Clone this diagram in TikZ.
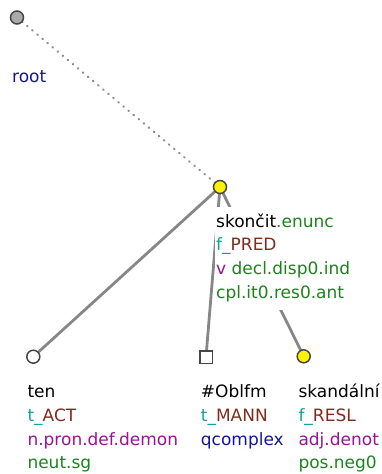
\documentclass[tikz,border=0pt]{standalone}
\usepackage{fontspec}
\newfontfamily\labfont{DejaVu Sans}
\definecolor{tgreen}{RGB}{30,130,30}
\definecolor{tteal}{RGB}{20,160,160}
\definecolor{tbrown}{RGB}{125,45,30}
\definecolor{tpurple}{RGB}{150,20,150}
\definecolor{tblue}{RGB}{20,20,150}
\definecolor{edgegray}{RGB}{135,135,135}
\definecolor{nodeborder}{RGB}{70,70,70}
\definecolor{rootfill}{RGB}{170,170,170}
\definecolor{dotgray}{RGB}{140,140,140}
\tikzset{
  lab/.style={font=\labfont\fontsize{17}{20}\selectfont, anchor=base west, inner sep=0pt},
  tnode/.style={circle, draw=nodeborder, line width=1.5pt, minimum size=13pt, inner sep=0pt},
  tsquare/.style={rectangle, draw=nodeborder, line width=1.5pt, minimum size=12.5pt, inner sep=0pt, fill=white},
  tedge/.style={draw=edgegray, line width=2.8pt},
  rootedge/.style={draw=dotgray, line width=2.2pt, line cap=round, dash pattern=on 0.6pt off 6pt},
}
\begin{document}
\begin{tikzpicture}[x=1pt,y=-1pt]
\useasboundingbox (0,0) rectangle (382,474);
% node positions
\coordinate (rootc) at (17,17.5);
\coordinate (predc) at (220,187);
\coordinate (tenc) at (33.3,356.7);
\coordinate (oblc) at (206,357);
\coordinate (skac) at (303.7,356.3);
% edges
\draw[rootedge] (rootc) -- (predc);
\draw[tedge] (predc) -- (tenc);
\draw[tedge] (predc) -- (oblc);
\draw[tedge] (predc) -- (skac);
% white label background for the predicate
\fill[white] (215,207) rectangle (345,310);
% nodes
\node[tnode, fill=rootfill] (root) at (rootc) {};
\node[tnode, fill=yellow] (pred) at (predc) {};
\node[tnode, fill=white] (ten) at (tenc) {};
\node[tsquare] (obl) at (oblc) {};
\node[tnode, fill=yellow] (ska) at (skac) {};
% labels
\node[lab, text=tblue] (rootl) at (12,82) {root};

\node[lab] (p1) at (216,227) {skončit{\color{tgreen}.enunc}};
\node[lab] (p2) at (216,250.7) {{\color{tteal}f\_}{\color{tbrown}PRED}};
\node[lab] (p3) at (216,274.4) {{\color{tpurple}v} {\color{tgreen}decl.disp0.ind}};
\node[lab, text=tgreen] (p4) at (216,298) {cpl.it0.res0.ant};

\node[lab] (t1) at (27.3,397) {ten};
\node[lab] (t2) at (27.3,421) {{\color{tteal}t\_}{\color{tbrown}ACT}};
\node[lab, text=tpurple] (t3) at (27.3,445) {n.pron.def.demon};
\node[lab, text=tgreen] (t4) at (27.3,468.5) {neut.sg};

\node[lab] (o1) at (200.7,397) {\#Oblfm};
\node[lab] (o2) at (200.7,421) {{\color{tteal}t\_}{\color{tbrown}MANN}};
\node[lab, text=tblue] (o3) at (200.7,445) {qcomplex};

\node[lab] (s1) at (298.3,397) {skandální};
\node[lab] (s2) at (298.3,421) {{\color{tteal}f\_}{\color{tbrown}RESL}};
\node[lab, text=tpurple] (s3) at (298.3,445) {adj.denot};
\node[lab, text=tgreen] (s4) at (298.3,468.5) {pos.neg0};
\end{tikzpicture}
\end{document}
